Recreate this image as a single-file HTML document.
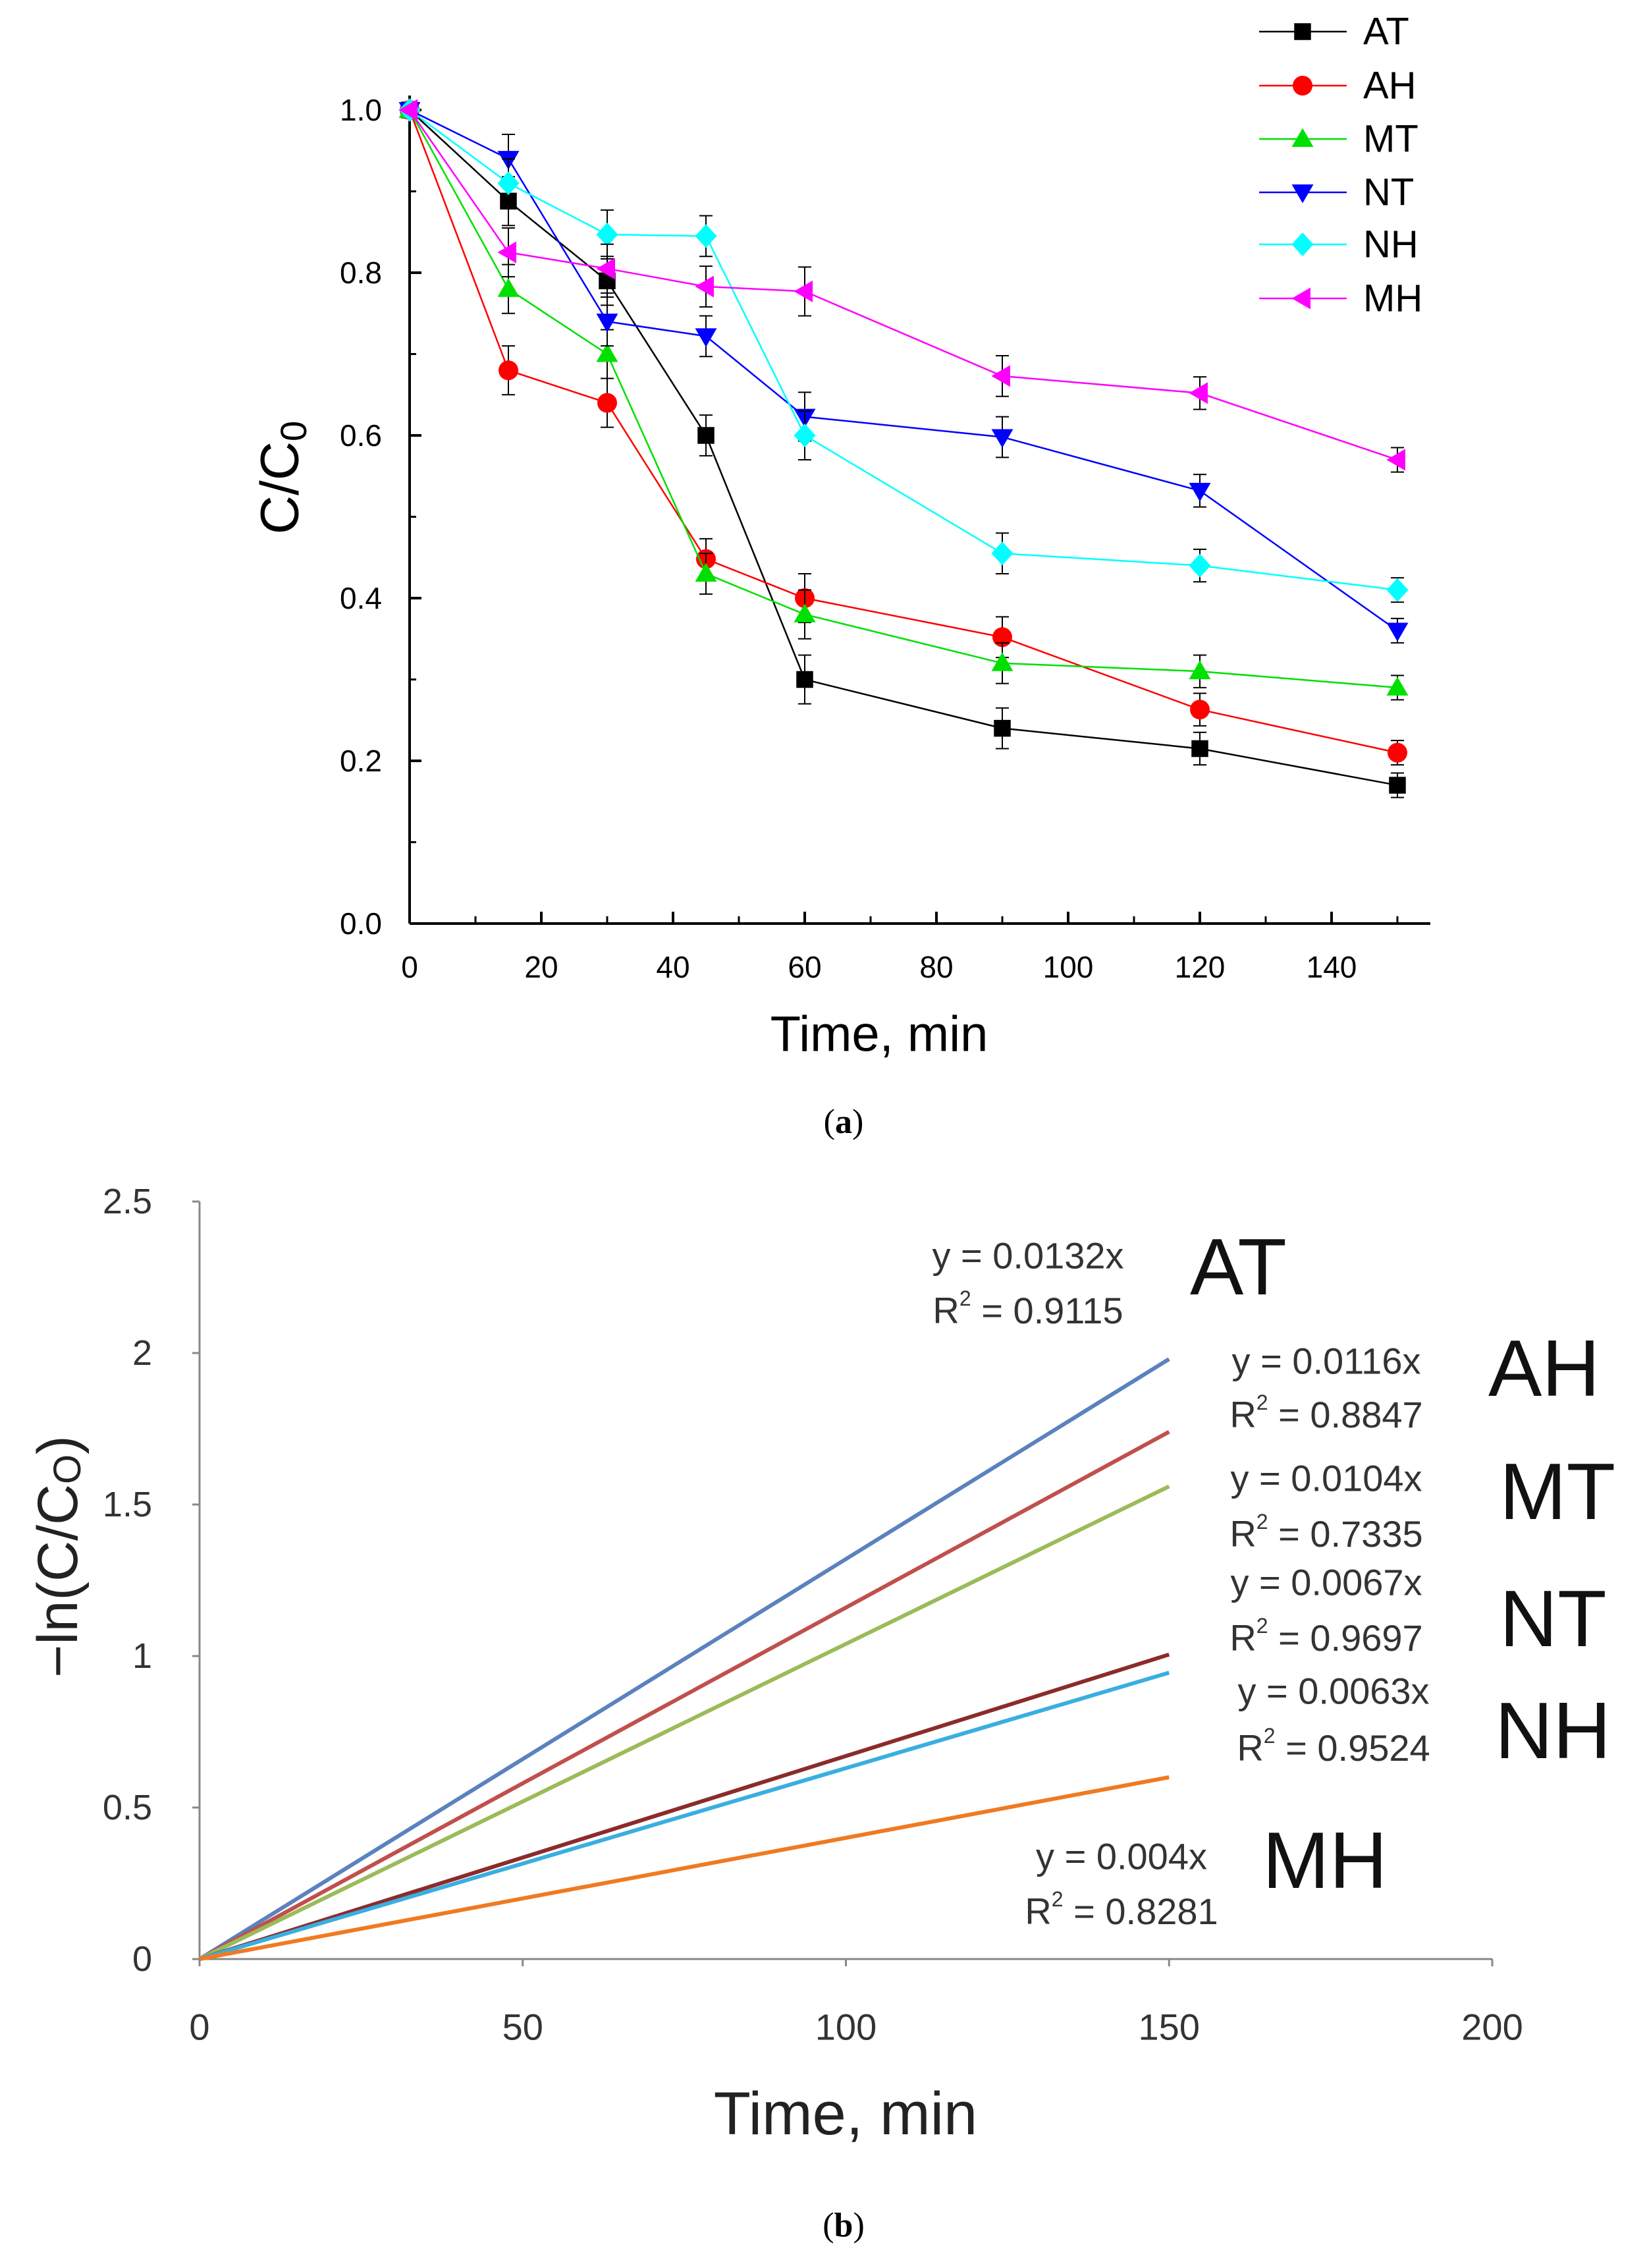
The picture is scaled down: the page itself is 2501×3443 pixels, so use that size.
<!DOCTYPE html>
<html><head><meta charset="utf-8"><style>
html,body{margin:0;padding:0;background:#fff}
svg{display:block}
</style></head><body>
<svg id="fig" width="2501" height="3443" viewBox="0 0 2501 3443" xmlns="http://www.w3.org/2000/svg">
<g id="chartA"></g>
<g id="chartB"></g>
</svg>
<script>
// ---------- Chart (a) data ----------
const timesA = [0, 15, 30, 45, 60, 90, 120, 150];
const seriesNames = ["AT", "AH", "MT", "NT", "NH", "MH"];
const valAT = [1.0, 0.888, 0.79, 0.60, 0.30, 0.24, 0.215, 0.17];
const valAH = [1.0, 0.68, 0.64, 0.448, 0.40, 0.352, 0.263, 0.21];
const valMT = [1.0, 0.78, 0.70, 0.43, 0.38, 0.32, 0.31, 0.29];
const valNT = [1.0, 0.94, 0.74, 0.722, 0.623, 0.598, 0.532, 0.36];
const valNH = [1.0, 0.91, 0.847, 0.845, 0.60, 0.455, 0.44, 0.41];
const valMH = [1.0, 0.825, 0.805, 0.783, 0.777, 0.673, 0.652, 0.57];
const errA = [0.0, 0.03, 0.03, 0.025, 0.03, 0.025, 0.02, 0.015];
const yTicksA = [0.0, 0.2, 0.4, 0.6, 0.8, 1.0];
const xTicksA = [0, 20, 40, 60, 80, 100, 120, 140];

// ---------- Chart (b) data ----------
const seriesB = ["AT", "AH", "MT", "NT", "NH", "MH"];
const slopesB = [0.0132, 0.0116, 0.0104, 0.0067, 0.0063, 0.004];
const r2B = ["0.9115", "0.8847", "0.7335", "0.9697", "0.9524", "0.8281"];
const xEndB = 150;
const yTicksB = [0, 0.5, 1, 1.5, 2, 2.5];
const yTickLabelsB = ["0", "0.5", "1", "1.5", "2", "2.5"];
const xTicksB = [0, 50, 100, 150, 200];

const NS = "http://www.w3.org/2000/svg";
function mk(tag, attrs, parent, text) {
  const e = document.createElementNS(NS, tag);
  for (const k in attrs) e.setAttribute(k, attrs[k]);
  if (text !== undefined) e.textContent = text;
  parent.appendChild(e);
  return e;
}

// ===== Chart A =====
const gA = document.getElementById("chartA");
const xA = t => 622 + t * 10.0;
const yA = v => 1402 - v * 1235;
const colorsA = {AT:"#000000", AH:"#ff0000", MT:"#00e000", NT:"#0000ff", NH:"#00ffff", MH:"#ff00ff"};
const markersA = {AT:"square", AH:"circle", MT:"up", NT:"down", NH:"diamond", MH:"left"};
const valsA = {AT:valAT, AH:valAH, MT:valMT, NT:valNT, NH:valNH, MH:valMH};

function marker(g, type, cx, cy, color, r) {
  let m;
  if (type === "square") m = mk("rect", {x:cx-r*0.85, y:cy-r*0.85, width:r*1.7, height:r*1.7, fill:color}, g);
  else if (type === "circle") m = mk("circle", {cx:cx, cy:cy, r:r, fill:color}, g);
  else {
    let pts;
    if (type === "up") pts = [[cx,cy-r*1.1],[cx+r*1.1,cy+r*0.8],[cx-r*1.1,cy+r*0.8]];
    if (type === "down") pts = [[cx,cy+r*1.1],[cx+r*1.1,cy-r*0.8],[cx-r*1.1,cy-r*0.8]];
    if (type === "diamond") pts = [[cx,cy-r*1.2],[cx+r*1.1,cy],[cx,cy+r*1.2],[cx-r*1.1,cy]];
    if (type === "left") pts = [[cx-r*1.1,cy],[cx+r*0.8,cy-r*1.1],[cx+r*0.8,cy+r*1.1]];
    m = mk("polygon", {points: pts.map(p=>p.join(",")).join(" "), fill:color}, g);
  }
  return m;
}

const axA = mk("g", {}, gA);


mk("line", {x1:622, y1:145, x2:622, y2:1402, stroke:"#000", "stroke-width":4}, axA);
mk("line", {x1:622, y1:1402, x2:2172, y2:1402, stroke:"#000", "stroke-width":4}, axA);
yTicksA.forEach(v => {
  mk("line", {x1:622, y1:yA(v), x2:640, y2:yA(v), stroke:"#000", "stroke-width":4}, axA);
  const t = mk("text", {x:580, y:yA(v), "text-anchor":"end", "dominant-baseline":"central", "font-family":"Liberation Sans, sans-serif", "font-size":46}, axA, v.toFixed(1));
  
  
});
for (let v = 0.1; v < 1.0; v += 0.2) mk("line", {x1:622, y1:yA(v), x2:632, y2:yA(v), stroke:"#000", "stroke-width":3}, axA);
xTicksA.forEach(t => {
  mk("line", {x1:xA(t), y1:1402, x2:xA(t), y2:1384, stroke:"#000", "stroke-width":4}, axA);
  const l = mk("text", {x:xA(t), y:1468, "text-anchor":"middle", "dominant-baseline":"central", "font-family":"Liberation Sans, sans-serif", "font-size":46}, axA, String(t));
  
  
});
for (let t = 10; t < 155; t += 20) mk("line", {x1:xA(t), y1:1402, x2:xA(t), y2:1391, stroke:"#000", "stroke-width":3}, axA);

const ytA = mk("text", {x:425, y:725, "text-anchor":"middle", "dominant-baseline":"central", transform:"rotate(-90 425 725)", "font-family":"Liberation Sans, sans-serif", "font-size":82}, gA);


ytA.innerHTML = 'C/C<tspan font-size="56" dy="20">0</tspan>';
const xtA = mk("text", {x:1335, y:1570, "text-anchor":"middle", "dominant-baseline":"central", "font-family":"Liberation Sans, sans-serif", "font-size":76}, gA, "Time, min");


const capA = mk("text", {x:1281, y:1703, "text-anchor":"middle", "dominant-baseline":"central", "font-family":"Liberation Serif, serif", "font-size":52}, gA);


capA.innerHTML = '(<tspan font-weight="bold">a</tspan>)';

seriesNames.forEach(name => {
  const g = mk("g", {}, gA);
  
  
  const vals = valsA[name], c = colorsA[name];
  mk("polyline", {points: timesA.map((t,i)=>xA(t)+","+yA(vals[i])).join(" "), fill:"none", stroke:c, "stroke-width":2.5}, g);
  timesA.forEach((t,i) => {
    if (errA[i] > 0) {
      const e = errA[i];
      mk("line", {x1:xA(t), y1:yA(vals[i]+e), x2:xA(t), y2:yA(vals[i]-e), stroke:"#000", "stroke-width":2}, g);
      mk("line", {x1:xA(t)-10, y1:yA(vals[i]+e), x2:xA(t)+10, y2:yA(vals[i]+e), stroke:"#000", "stroke-width":2}, g);
      mk("line", {x1:xA(t)-10, y1:yA(vals[i]-e), x2:xA(t)+10, y2:yA(vals[i]-e), stroke:"#000", "stroke-width":2}, g);
    }
    const m = marker(g, markersA[name], xA(t), yA(vals[i]), c, 15);
    
    
  });
});

const legYs = [48, 130, 211, 292, 371, 453];
const leg = mk("g", {}, gA);


seriesNames.forEach((name, i) => {
  const g = mk("g", {}, leg);
  
  
  const y = legYs[i], c = colorsA[name];
  mk("line", {x1:1912, y1:y, x2:2045, y2:y, stroke:c, "stroke-width":2.5}, g);
  marker(g, markersA[name], 1978, y, c, 15);
  mk("text", {x:2070, y:y, "dominant-baseline":"central", "font-family":"Liberation Sans, sans-serif", "font-size":58}, g, name);
});

// ===== Chart B =====
const gB = document.getElementById("chartB");
const xB = t => 303 + t * 9.815;
const yB = v => 2974 - v * 460;
const colorsB = ["#5b82bd", "#c0504d", "#9bbb59", "#8c2b2b", "#3aaee0", "#f07a22"];
const axB = mk("g", {}, gB);


mk("line", {x1:303, y1:1824, x2:303, y2:2974, stroke:"#888", "stroke-width":3}, axB);
mk("line", {x1:303, y1:2974, x2:xB(200), y2:2974, stroke:"#888", "stroke-width":3}, axB);
yTicksB.forEach((v,i) => {
  mk("line", {x1:292, y1:yB(v), x2:303, y2:yB(v), stroke:"#888", "stroke-width":3}, axB);
  const t = mk("text", {x:231, y:yB(v), "text-anchor":"end", "dominant-baseline":"central", "font-family":"Liberation Sans Narrow, Liberation Sans, sans-serif", "font-size":54, fill:"#333"}, axB, yTickLabelsB[i]);
  
  
});
xTicksB.forEach(t => {
  mk("line", {x1:xB(t), y1:2974, x2:xB(t), y2:2985, stroke:"#888", "stroke-width":3}, axB);
  const l = mk("text", {x:xB(t), y:3077, "text-anchor":"middle", "dominant-baseline":"central", "font-family":"Liberation Sans Narrow, Liberation Sans, sans-serif", "font-size":56, fill:"#333"}, axB, String(t));
  
  
});
const ytB = mk("text", {x:88, y:2363, "text-anchor":"middle", "dominant-baseline":"central", transform:"rotate(-90 88 2363)", "font-family":"Liberation Sans, sans-serif", "font-size":86, fill:"#222"}, gB);


ytB.innerHTML = '\u2212ln(C/C<tspan font-size="58" dy="14">O</tspan><tspan dy="-14">)</tspan>';
const xtB = mk("text", {x:1284, y:3209, "text-anchor":"middle", "dominant-baseline":"central", "font-family":"Liberation Sans Narrow, Liberation Sans, sans-serif", "font-size":92, fill:"#222"}, gB, "Time, min");


const capB = mk("text", {x:1281, y:3378, "text-anchor":"middle", "dominant-baseline":"central", "font-family":"Liberation Serif, serif", "font-size":52}, gB);


capB.innerHTML = '(<tspan font-weight="bold">b</tspan>)';

seriesB.forEach((name, i) => {
  const ln = mk("line", {x1:xB(0), y1:yB(0), x2:xB(xEndB), y2:yB(slopesB[i]*xEndB), stroke:colorsB[i], "stroke-width":6}, gB);
  
  
});

const annEq = [[1561,1906,1989],[2014,2066,2147],[2014,2244,2328],[2014,2402,2486],[2025,2567,2653],[1703,2818,2901]];
const annLbl = [[1807,1923],[2260,2077],[2277,2264],[2277,2457],[2270,2627],[1917,2824]];
seriesB.forEach((name, i) => {
  const g = mk("g", {}, gB);
  
  
  const [cx, y1, y2] = annEq[i];
  mk("text", {x:cx, y:y1, "text-anchor":"middle", "dominant-baseline":"central", "font-family":"Liberation Sans Narrow, Liberation Sans, sans-serif", "font-size":56, fill:"#333"}, g, "y = " + slopesB[i] + "x");
  const r = mk("text", {x:cx, y:y2, "text-anchor":"middle", "dominant-baseline":"central", "font-family":"Liberation Sans Narrow, Liberation Sans, sans-serif", "font-size":56, fill:"#333"}, g);
  r.innerHTML = 'R<tspan font-size="32" dy="-18">2</tspan><tspan dy="18"> = ' + r2B[i] + '</tspan>';
  const l = mk("text", {x:annLbl[i][0], y:annLbl[i][1], "dominant-baseline":"central", "font-family":"Liberation Sans Narrow, Liberation Sans, sans-serif", "font-size":122, fill:"#111"}, gB, name);
  
  
});
</script>
</body></html>
